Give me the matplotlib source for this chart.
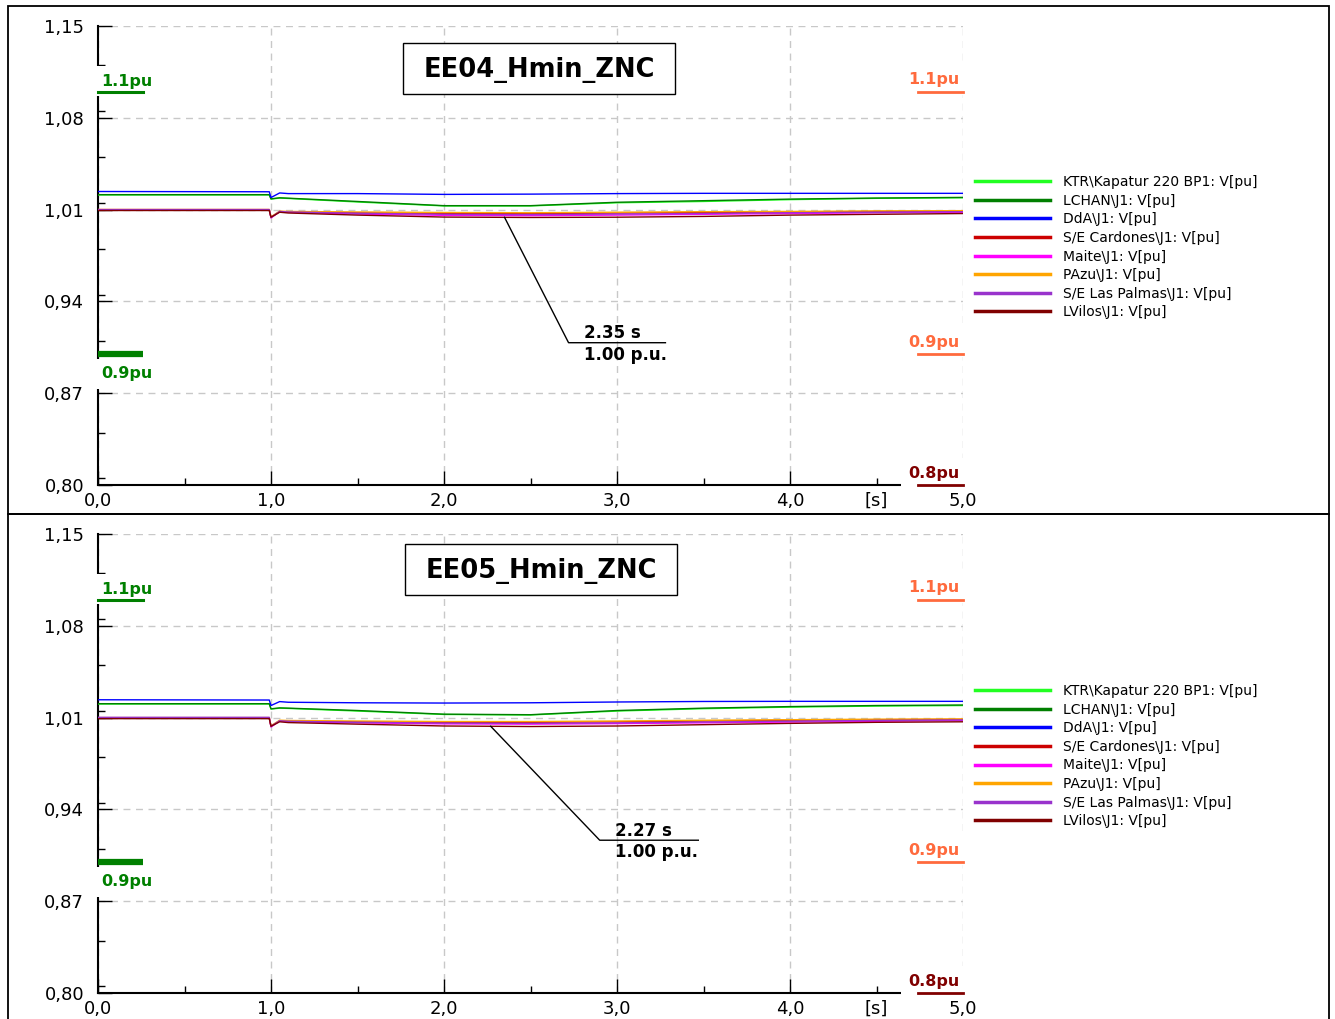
import matplotlib
matplotlib.use("Agg")
import matplotlib.pyplot as plt
from matplotlib.patches import Rectangle
from matplotlib.lines import Line2D
from matplotlib.ticker import FuncFormatter, MultipleLocator
import numpy as np

# simulation time points [s]
t = [0.0, 0.99, 1.0, 1.05, 1.1, 1.5, 2.0, 2.5, 3.0, 3.5, 4.0, 4.5, 5.0]

names = ['KTR\\Kapatur 220 BP1: V[pu]', 'LCHAN\\J1: V[pu]', 'DdA\\J1: V[pu]',
         'S/E Cardones\\J1: V[pu]', 'Maite\\J1: V[pu]', 'PAzu\\J1: V[pu]',
         'S/E Las Palmas\\J1: V[pu]', 'LVilos\\J1: V[pu]']
colors = ['#22ff22', '#007f00', '#0000ff', '#cc0000', '#ff00ff', '#ffa500',
          '#9933cc', '#800000']

# EE04_Hmin_ZNC voltages [pu]
ee04_ktr = [1.0212, 1.0212, 1.0180, 1.0188, 1.0185, 1.0158, 1.0128, 1.0128, 1.0152, 1.0162, 1.0176, 1.0186, 1.0190]
ee04_lchan = [1.0214, 1.0214, 1.0182, 1.0190, 1.0187, 1.0162, 1.0130, 1.0130, 1.0156, 1.0168, 1.0180, 1.0188, 1.0193]
ee04_dda = [1.0238, 1.0236, 1.0192, 1.0227, 1.0222, 1.0222, 1.0216, 1.0218, 1.0222, 1.0224, 1.0224, 1.0224, 1.0224]
ee04_cardones = [1.0098, 1.0098, 1.0040, 1.0085, 1.0082, 1.0076, 1.0072, 1.0070, 1.0074, 1.0078, 1.0082, 1.0086, 1.0088]
ee04_maite = [1.0100, 1.0100, 1.0036, 1.0084, 1.0080, 1.0066, 1.0056, 1.0054, 1.0058, 1.0064, 1.0070, 1.0076, 1.0080]
ee04_pazu = [1.0101, 1.0101, 1.0045, 1.0088, 1.0086, 1.0082, 1.0078, 1.0076, 1.0080, 1.0084, 1.0086, 1.0090, 1.0092]
ee04_palmas = [1.0100, 1.0100, 1.0040, 1.0086, 1.0082, 1.0072, 1.0064, 1.0062, 1.0066, 1.0070, 1.0076, 1.0080, 1.0084]
ee04_lvilos = [1.0093, 1.0093, 1.0042, 1.0080, 1.0074, 1.0058, 1.0043, 1.0040, 1.0042, 1.0048, 1.0058, 1.0064, 1.0070]

# EE05_Hmin_ZNC voltages [pu]
ee05_ktr = [1.0204, 1.0204, 1.0165, 1.0172, 1.0170, 1.0150, 1.0124, 1.0120, 1.0150, 1.0168, 1.0180, 1.0188, 1.0192]
ee05_lchan = [1.0206, 1.0206, 1.0167, 1.0174, 1.0172, 1.0154, 1.0126, 1.0122, 1.0154, 1.0172, 1.0184, 1.0192, 1.0196]
ee05_dda = [1.0236, 1.0234, 1.0192, 1.0222, 1.0217, 1.0213, 1.0211, 1.0213, 1.0219, 1.0223, 1.0224, 1.0224, 1.0224]
ee05_cardones = [1.0096, 1.0096, 1.0032, 1.0075, 1.0072, 1.0068, 1.0064, 1.0064, 1.0068, 1.0074, 1.0080, 1.0084, 1.0086]
ee05_maite = [1.0098, 1.0098, 1.0028, 1.0074, 1.0070, 1.0060, 1.0052, 1.0050, 1.0054, 1.0060, 1.0066, 1.0072, 1.0078]
ee05_pazu = [1.0100, 1.0100, 1.0038, 1.0080, 1.0078, 1.0074, 1.0070, 1.0070, 1.0074, 1.0080, 1.0084, 1.0088, 1.0090]
ee05_palmas = [1.0102, 1.0102, 1.0034, 1.0076, 1.0072, 1.0064, 1.0058, 1.0056, 1.0060, 1.0066, 1.0072, 1.0078, 1.0082]
ee05_lvilos = [1.0092, 1.0092, 1.0034, 1.0068, 1.0062, 1.0050, 1.0036, 1.0032, 1.0036, 1.0046, 1.0056, 1.0064, 1.0068]

# cursor readouts
cursor04 = 2.35
cursor05 = 2.27

W, H = 1335, 1019
fig = plt.figure(figsize=(W / 100, H / 100), dpi=100)
plt.rcParams['font.family'] = 'DejaVu Sans'

GREEN = '#008000'
CORAL = '#ff6a3d'
MAROON = '#800000'


def comma(v, pos):
    return ('%.2f' % v).replace('.', ',')


def comma1(v, pos):
    return ('%.1f' % v).replace('.', ',')


def panel(ax, series, title, title_box, cursor, elbow, leg_y):
    for s, c, n in zip(series, colors, names):
        ax.plot(t, s, color=c, lw=1.0, label=n, zorder=3)

    ax.set_xlim(0, 5)
    ax.set_ylim(0.80, 1.15)
    ax.set_yticks([0.80, 0.87, 0.94, 1.01, 1.08, 1.15])
    ax.yaxis.set_minor_locator(MultipleLocator(0.035))
    ax.xaxis.set_major_locator(MultipleLocator(1.0))
    ax.xaxis.set_minor_locator(MultipleLocator(0.5))
    ax.yaxis.set_major_formatter(FuncFormatter(comma))
    ax.xaxis.set_major_formatter(FuncFormatter(comma1))
    ax.tick_params(which='major', direction='in', length=10, width=1.0, labelsize=13)
    ax.tick_params(which='minor', direction='in', length=5, width=1.0)
    ax.tick_params(axis='y', pad=10)
    ax.tick_params(axis='x', pad=5)
    ax.grid(True, which='major', color='#c8c8c8', ls=(0, (5, 4)), lw=1.0)
    for sp in ['top', 'right']:
        ax.spines[sp].set_visible(False)
    for sp in ['left', 'bottom']:
        ax.spines[sp].set_linewidth(1.5)
    ax.text(4.5, -0.014, '[s]', transform=ax.get_xaxis_transform(),
            ha='center', va='top', fontsize=13)

    box = dict(facecolor='white', edgecolor='none', pad=5.5)
    # limit markers
    ax.plot([0, 0.26], [1.1, 1.1], color=GREEN, lw=2.2, zorder=6, clip_on=False)
    ax.annotate('1.1pu', (0.02, 1.1), xytext=(0, 2), textcoords='offset points',
                ha='left', va='bottom', color=GREEN, fontsize=11.5,
                fontweight='bold', bbox=box, zorder=5, annotation_clip=False)
    ax.plot([0, 0.26], [0.9, 0.9], color=GREEN, lw=4.5, zorder=6,
            solid_capstyle='butt', clip_on=False)
    ax.annotate('0.9pu', (0.02, 0.9), xytext=(0, -9), textcoords='offset points',
                ha='left', va='top', color=GREEN, fontsize=11.5,
                fontweight='bold', bbox=box, zorder=5, annotation_clip=False)
    for lvl, txt, col in [(1.1, '1.1pu', CORAL), (0.9, '0.9pu', CORAL),
                          (0.8, '0.8pu', MAROON)]:
        ax.plot([4.74, 5.0], [lvl, lvl], color=col, lw=2.0, zorder=6,
                clip_on=False)
        ax.annotate(txt, (4.98, lvl), xytext=(0, 3), textcoords='offset points',
                    ha='right', va='bottom', color=col, fontsize=11.5,
                    fontweight='bold', bbox=box, zorder=5, annotation_clip=False)

    # title frame
    x0, y0, x1, y1 = title_box
    ax.add_patch(Rectangle((x0, y0), x1 - x0, y1 - y0, transform=ax.transAxes,
                           facecolor='white', edgecolor='black', lw=1.0,
                           zorder=7, clip_on=False))
    ax.text((x0 + x1) / 2, (y0 + y1) / 2 - 0.004, title, transform=ax.transAxes,
            ha='center', va='center', fontsize=18.5, fontweight='bold', zorder=8)

    # cursor readout on LVilos
    v = float(np.interp(cursor, t, series[-1]))
    ex, ey, ex2 = elbow
    ax.plot([cursor, ex, ex2], [v, ey, ey], color='black', lw=1.0, zorder=7)
    ax.text(ex + 0.09, ey + 0.0005, '%.2f s' % cursor, ha='left', va='bottom',
            fontsize=12, fontweight='bold', zorder=7)
    ax.text(ex + 0.09, ey - 0.0025, '%.2f p.u.' % v, ha='left', va='top',
            fontsize=12, fontweight='bold', zorder=7)

    handles = [Line2D([], [], color=c, lw=2.5) for c in colors]
    ax.legend(handles, names, loc='upper left', bbox_to_anchor=(1.0139, leg_y),
              frameon=False, fontsize=10, handlelength=5.4, handletextpad=0.93,
              labelspacing=0.33, borderpad=0, borderaxespad=0)


ax1 = fig.add_axes([98 / W, (H - 485) / H, 865 / W, 459 / H])
ax2 = fig.add_axes([98 / W, (H - 993) / H, 865 / W, 459 / H])

panel(ax1, [ee04_ktr, ee04_lchan, ee04_dda, ee04_cardones, ee04_maite,
            ee04_pazu, ee04_palmas, ee04_lvilos],
      'EE04_Hmin_ZNC', (0.3526, 0.8519, 0.6671, 0.963), cursor04,
      (2.72, 0.9085, 3.28), 0.675)
panel(ax2, [ee05_ktr, ee05_lchan, ee05_dda, ee05_cardones, ee05_maite,
            ee05_pazu, ee05_palmas, ee05_lvilos],
      'EE05_Hmin_ZNC', (0.3549, 0.8671, 0.6694, 0.9782), cursor05,
      (2.90, 0.9165, 3.47), 0.673)

# panel frames
fig.add_artist(Rectangle((8 / W, (H - 514) / H), 1321 / W, 508 / H,
                         transform=fig.transFigure, fill=False, lw=1.3,
                         edgecolor='black'))
fig.add_artist(Rectangle((8 / W, -0.01), 1321 / W, (H - 514) / H + 0.01,
                         transform=fig.transFigure, fill=False, lw=1.3,
                         edgecolor='black'))

fig.savefig('out.png', dpi=100)
